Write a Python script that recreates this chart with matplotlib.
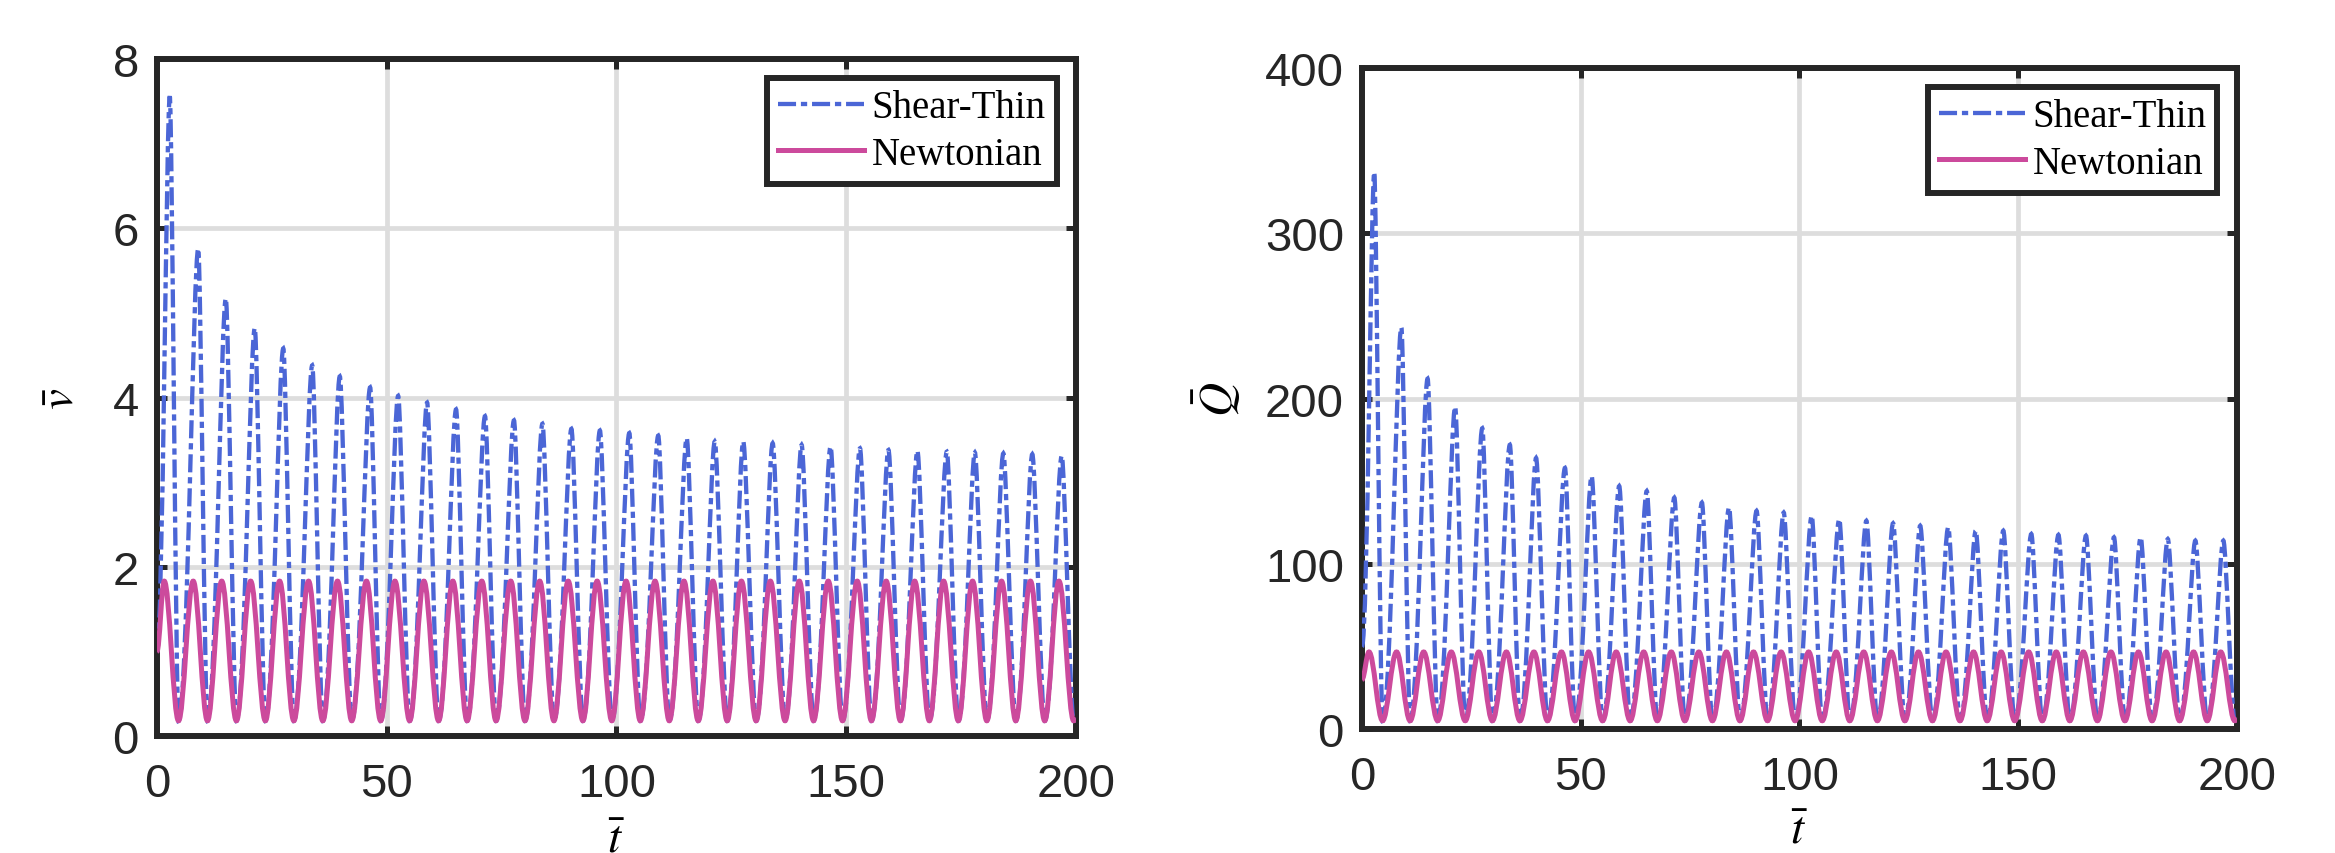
import matplotlib
matplotlib.use("Agg")
import matplotlib.pyplot as plt
from matplotlib.path import Path
from matplotlib.patches import PathPatch
from matplotlib.lines import Line2D
import numpy as np

plt.rcParams["font.family"] = ["Liberation Sans", "DejaVu Sans"]
plt.rcParams["mathtext.fontset"] = "stix"
plt.rcParams["lines.scale_dashes"] = False

# ---- data ----
# times of the shear-thinning peaks (both panels)
st_peak_t = [2.8, 9.0, 15.0, 21.3, 27.5, 33.8, 39.8, 46.4, 52.5, 58.8, 65.1, 71.4,
             77.7, 83.9, 90.2, 96.4, 102.8, 109.1, 115.3, 121.4, 127.6, 134.0, 140.3,
             146.6, 153.0, 159.2, 165.5, 171.9, 178.0, 184.2, 190.5, 196.9]
# times of the Newtonian peaks
nw_peak_t = [1.6, 7.9, 14.1, 20.4, 26.7, 33.0, 39.3, 45.6, 51.8, 58.1, 64.4, 70.7,
             77.0, 83.3, 89.5, 95.8, 102.1, 108.4, 114.7, 121.0, 127.2, 133.5, 139.8,
             146.1, 152.4, 158.7, 164.9, 171.2, 177.5, 183.8, 190.1, 196.3]
# times of the troughs (shared by both fluids)
trough_t = [4.7, 11.0, 17.3, 23.6, 29.8, 36.1, 42.4, 48.7, 55.0, 61.3, 67.5, 73.8,
            80.1, 86.4, 92.7, 99.0, 105.2, 111.5, 117.8, 124.1, 130.4, 136.7, 142.9,
            149.2, 155.5, 161.8, 168.1, 174.4, 180.6, 186.9, 193.2, 199.5]

v_st_peak = [7.56, 5.76, 5.17, 4.82, 4.58, 4.38, 4.25, 4.12, 4.02, 3.94, 3.86, 3.78,
             3.73, 3.69, 3.63, 3.61, 3.58, 3.55, 3.52, 3.48, 3.48, 3.46, 3.44, 3.42,
             3.40, 3.38, 3.37, 3.36, 3.35, 3.34, 3.33, 3.31]
v_st_trough = 0.18
v_nw_peak = 1.83
v_nw_trough = 0.18
v_start = [1.0, 1.0]      # shear-thin, newtonian at t = 0
v_end = [0.2, 0.2]        # at t = 200

q_st_peak = [337, 243, 212, 195, 182, 172, 164, 158, 153, 147, 144, 140,
             137, 134, 132, 131, 129, 127, 126, 124.5, 123, 122, 120, 120,
             118, 117.5, 117, 116, 116, 115, 114, 114]
q_st_trough = 5.0
q_nw_peak = 46.6
q_nw_trough = 5.0
q_start = [50.0, 30.0]
q_end = [6.0, 6.0]

T_END = 200
BLUE = "#4B66D6"
MAGENTA = "#CC4A9C"
DARK = "#262626"
ST_DASH = (0, (13, 3.5, 4.5, 3.5))


def wave_path(peak_t, peak_y, trough_y, y0, y_end, rise, fall):
    # extremes joined by cubic Bezier pieces with flat tangents
    ts = [0.0]
    ys = [y0]
    for tp, yp, tt in zip(peak_t, peak_y, trough_t):
        ts += [tp, tt]
        ys += [yp, trough_y]
    ts.append(T_END)
    ys.append(y_end)

    verts = [(ts[0], ys[0])]
    codes = [Path.MOVETO]
    for t0, y0_, t1, y1 in zip(ts[:-1], ys[:-1], ts[1:], ys[1:]):
        dt = t1 - t0
        a, b = rise if y1 > y0_ else fall
        verts += [(t0 + a * dt, y0_), (t1 - b * dt, y1), (t1, y1)]
        codes += [Path.CURVE4] * 3
    return Path(verts, codes)


def draw_panel(ax, st_peak, st_trough, nw_peak, nw_trough, start, end, ylim, yticks, ylabel):
    st = wave_path(st_peak_t, st_peak, st_trough, start[0], end[0],
                   rise=(0.45, 0.25), fall=(0.25, 0.3))
    nw = wave_path(nw_peak_t, np.full(len(nw_peak_t), nw_peak), nw_trough,
                   start[1], end[1], rise=(0.364, 0.364), fall=(0.364, 0.364))

    ax.add_patch(PathPatch(st, fill=False, edgecolor=BLUE, linewidth=3.1,
                           linestyle=ST_DASH, zorder=3))
    ax.add_patch(PathPatch(nw, fill=False, edgecolor=MAGENTA, linewidth=3.6,
                           zorder=4))

    ax.set_xlim(0, T_END)
    ax.set_ylim(*ylim)
    ax.set_xticks([0, 50, 100, 150, 200])
    ax.set_yticks(yticks)
    ax.set_axisbelow(True)
    ax.grid(True, color="#dddddd", linewidth=3.4)
    ax.tick_params(direction="in", top=True, right=True, length=7, width=3.6,
                   labelsize=34, colors=DARK, labelcolor=DARK)
    ax.tick_params(axis="x", pad=19)
    ax.tick_params(axis="y", pad=13)
    for spine in ax.spines.values():
        spine.set_linewidth(4.3)
        spine.set_color(DARK)

    ax.set_xlabel(r"$\bar{t}$", fontsize=34, color="black")
    ax.set_ylabel(ylabel, fontsize=34, color="black")

    handles = [
        Line2D([], [], color=BLUE, linewidth=3.1, linestyle=ST_DASH),
        Line2D([], [], color=MAGENTA, linewidth=3.6),
    ]
    leg = ax.legend(handles, ["Shear-Thin", "Newtonian"], loc="upper right",
                    prop={"family": "Liberation Serif", "size": 28},
                    fancybox=False, framealpha=1, edgecolor=DARK,
                    handlelength=2.2, handletextpad=0.2, labelspacing=0.25,
                    borderpad=0.28, borderaxespad=0.5)
    leg.get_frame().set_linewidth(4.3)


fig = plt.figure(figsize=(23.35, 8.54), dpi=100)
ax1 = fig.add_axes([0.0672, 0.137, 0.3936, 0.7927])
ax2 = fig.add_axes([0.5833, 0.1452, 0.3747, 0.774])

draw_panel(ax1, v_st_peak, v_st_trough, v_nw_peak, v_nw_trough, v_start, v_end,
           (0, 8), [0, 2, 4, 6, 8], r"$\bar{v}$")
draw_panel(ax2, q_st_peak, q_st_trough, q_nw_peak, q_nw_trough, q_start, q_end,
           (0, 400), [0, 100, 200, 300, 400], r"$\bar{Q}$")

ax1.yaxis.set_label_coords(-0.08, 0.5)
ax2.yaxis.set_label_coords(-0.136, 0.5)
ax1.xaxis.set_label_coords(0.5, -0.12)
ax2.xaxis.set_label_coords(0.5, -0.12)

fig.savefig("out.png", dpi=100)
